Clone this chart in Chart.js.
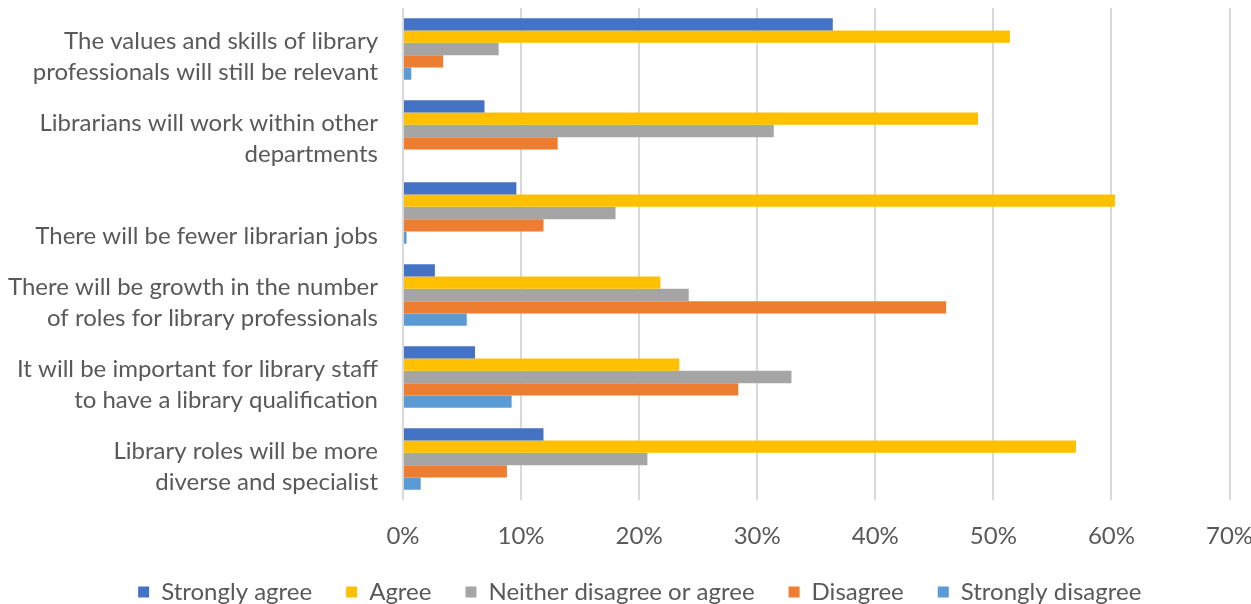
<!DOCTYPE html>
<html>
<head>
<meta charset="utf-8">
<script src="https://cdn.jsdelivr.net/npm/chart.js@4"></script>
<style>
  html, body { margin: 0; padding: 0; background: #fff; }
  #wrap { width: 1251px; height: 604px; }
</style>
</head>
<body>
<div id="wrap"><canvas id="chart"></canvas></div>
<script>
// Categories (top to bottom)
const categories = [
    ['The values and skills of library', 'professionals will still be relevant'],
    ['Librarians will work within other', 'departments'],
    ['', 'There will be fewer librarian jobs'],
    ['There will be growth in the number', 'of roles for library professionals'],
    ['It will be important for library staff', 'to have a library qualification'],
    ['Library roles will be more', 'diverse and specialist']
];

// Series values (%)
const stronglyAgree    = [36.4, 6.9, 9.6, 2.7, 6.1, 11.9];
const agree            = [51.4, 48.7, 60.3, 21.8, 23.4, 57.0];
const neither          = [8.1, 31.4, 18.0, 24.2, 32.9, 20.7];
const disagree         = [3.4, 13.1, 11.9, 46.0, 28.4, 8.8];
const stronglyDisagree = [0.7, 0, 0.3, 5.4, 9.2, 1.5];

const xTicks = [0, 10, 20, 30, 40, 50, 60, 70];

const textColor = '#595959';
const fontFamily = 'Lato, "Liberation Sans", sans-serif';

Chart.defaults.font.family = fontFamily;
Chart.defaults.color = textColor;

// nudge the legend a bit right, like the original
const legendShift = {
    id: 'legendShift',
    afterLayout(chart) {
        chart.legend.left += 25;
        chart.legend.right += 25;
    }
};

const ctx = document.getElementById('chart').getContext('2d');
new Chart(ctx, {
    type: 'bar',
    data: {
        labels: categories,
        datasets: [
            { label: 'Strongly agree', data: stronglyAgree, backgroundColor: '#4472C4' },
            { label: 'Agree', data: agree, backgroundColor: '#FFC000' },
            { label: 'Neither disagree or agree', data: neither, backgroundColor: '#A5A5A5' },
            { label: 'Disagree', data: disagree, backgroundColor: '#ED7D31' },
            { label: 'Strongly disagree', data: stronglyDisagree, backgroundColor: '#5B9BD5' }
        ]
    },
    plugins: [legendShift],
    options: {
        indexAxis: 'y',
        responsive: true,
        maintainAspectRatio: false,
        animation: false,
        layout: { padding: { top: 8, right: 21.5, left: 0, bottom: -10 } },
        datasets: {
            bar: { categoryPercentage: 0.75, barPercentage: 1.0 }
        },
        scales: {
            x: {
                min: 0,
                max: 70,
                border: { display: false },
                grid: { color: '#d9d9d9', lineWidth: 2, drawTicks: false },
                afterBuildTicks: (scale) => {
                    scale.ticks = xTicks.map(v => ({ value: v }));
                },
                afterFit: (scale) => {
                    scale.height = 46;
                    scale.paddingLeft = 0;
                    scale.paddingRight = 0;
                },
                ticks: {
                    padding: 22,
                    color: textColor,
                    font: { size: 24 },
                    callback: (v) => v + '%'
                }
            },
            y: {
                border: { display: false },
                grid: { display: false },
                afterFit: (scale) => {
                    scale.width = 403;
                    scale.paddingTop = 0;
                    scale.paddingBottom = 0;
                },
                ticks: {
                    padding: 17,
                    labelOffset: 8,
                    color: textColor,
                    font: { size: 24, lineHeight: 1.27 }
                }
            }
        },
        plugins: {
            legend: {
                position: 'bottom',
                labels: {
                    boxWidth: 11,
                    boxHeight: 11,
                    padding: 34,
                    color: textColor,
                    font: { size: 24 }
                }
            },
            tooltip: { enabled: false }
        }
    }
});
</script>
</body>
</html>
